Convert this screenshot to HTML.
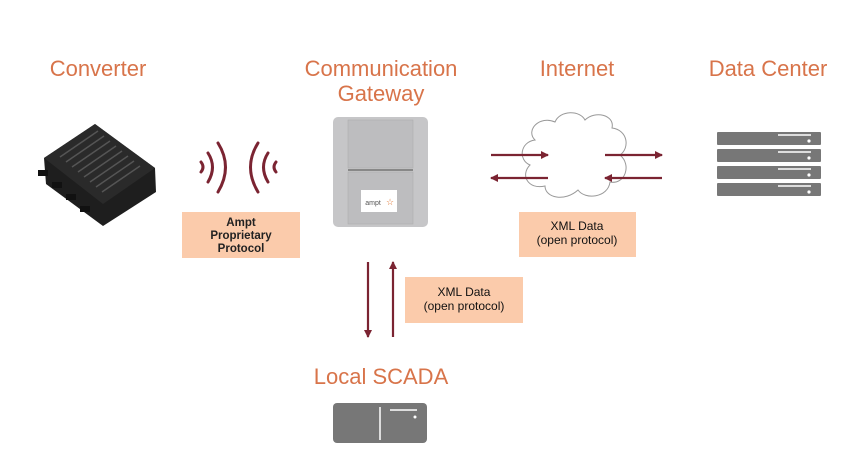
<!DOCTYPE html>
<html><head><meta charset="utf-8"><style>
html,body{margin:0;padding:0;background:#fff;}
svg{display:block;}
.t{font-family:"Liberation Sans",sans-serif;font-size:22px;fill:#d8744a;text-anchor:middle;}
.b{font-family:"Liberation Sans",sans-serif;font-size:11.5px;font-weight:bold;fill:#222;text-anchor:middle;}
.x{font-family:"Liberation Sans",sans-serif;font-size:12px;fill:#111;text-anchor:middle;}
</style></head><body>
<svg width="866" height="469" viewBox="0 0 866 469" xmlns="http://www.w3.org/2000/svg">
<defs>
<marker id="a" markerWidth="8" markerHeight="8" refX="7" refY="4" orient="auto" markerUnits="userSpaceOnUse"><path d="M0,0 L8,4 L0,8 z" fill="#7b2432"/></marker>
</defs>
<text class="t" x="98" y="76">Converter</text>
<text class="t" x="381" y="76">Communication</text>
<text class="t" x="381" y="101">Gateway</text>
<text class="t" x="577" y="76">Internet</text>
<text class="t" x="768" y="76">Data Center</text>

<!-- converter -->
<g>
<path d="M44,158 L95,124 L155,168 L156,192 L103,226 L46,184 Z" fill="#1e1e1e"/>
<path d="M44,158 L95,124 L155,168 L103,204 Z" fill="#2a2a2a"/>
<g stroke="#555" stroke-width="1.5">
<line x1="60" y1="157" x2="98" y2="131"/><line x1="66" y1="162" x2="104" y2="136"/><line x1="72" y1="167" x2="110" y2="141"/><line x1="78" y1="172" x2="116" y2="146"/><line x1="84" y1="177" x2="122" y2="151"/><line x1="90" y1="182" x2="128" y2="156"/><line x1="96" y1="187" x2="134" y2="161"/><line x1="102" y1="192" x2="140" y2="166"/>
</g>
<g fill="#111"><rect x="38" y="170" width="10" height="6"/><rect x="52" y="182" width="10" height="6"/><rect x="66" y="194" width="10" height="6"/><rect x="80" y="206" width="10" height="6"/></g>
</g>

<!-- waves -->
<g fill="none" stroke="#7b2432" stroke-width="3" stroke-linecap="round">
<path d="M201,162 Q205,167 201,172"/>
<path d="M208,153 Q217,167 208,182"/>
<path d="M218,143 Q233,167 218,192"/>
<path d="M258,143 Q243,167 258,192"/>
<path d="M268,153 Q259,167 268,182"/>
<path d="M276,162 Q272,167 276,172"/>
</g>
<rect x="182" y="212" width="118" height="46" fill="#fbcbab"/>
<text class="b" x="241" y="226">Ampt</text>
<text class="b" x="241" y="239">Proprietary</text>
<text class="b" x="241" y="252">Protocol</text>

<!-- gateway -->
<rect x="333" y="117" width="95" height="110" rx="5" fill="#c6c6c8"/>
<rect x="348" y="120" width="65" height="48" fill="#bdbdbf" stroke="#aaa" stroke-width="0.5"/>
<rect x="348" y="172" width="65" height="52" fill="#bdbdbf" stroke="#aaa" stroke-width="0.5"/>
<line x1="348" y1="170" x2="413" y2="170" stroke="#888" stroke-width="2"/>
<rect x="361" y="190" width="36" height="22" fill="#fff"/>
<text x="373" y="205" font-family="Liberation Sans,sans-serif" font-size="7" fill="#555" text-anchor="middle">ampt</text>
<text x="390" y="205" font-size="9" fill="#e07b3a" text-anchor="middle">☆</text>

<!-- cloud -->
<path d="M535,140 C525,130 540,115 555,122 C560,110 580,110 585,120 C595,110 615,115 612,128 C628,130 630,148 620,155 C632,165 625,185 610,182 C608,198 585,200 578,190 C565,202 545,198 545,186 C528,190 520,175 530,165 C518,160 520,142 535,140 Z" fill="#fff" stroke="#999" stroke-width="1"/>
<!-- internet arrows -->
<g stroke="#7b2432" stroke-width="2.2">
<line x1="491" y1="155" x2="548" y2="155" marker-end="url(#a)"/>
<line x1="548" y1="178" x2="491" y2="178" marker-end="url(#a)"/>
<line x1="605" y1="155" x2="662" y2="155" marker-end="url(#a)"/>
<line x1="662" y1="178" x2="605" y2="178" marker-end="url(#a)"/>
</g>
<rect x="519" y="212" width="117" height="45" fill="#fbcbab"/>
<text class="x" x="577" y="230">XML Data</text>
<text class="x" x="577" y="244">(open protocol)</text>

<!-- server -->
<g fill="#777">
<rect x="717" y="132" width="104" height="13" rx="1"/>
<rect x="717" y="149" width="104" height="13" rx="1"/>
<rect x="717" y="166" width="104" height="13" rx="1"/>
<rect x="717" y="183" width="104" height="13" rx="1"/>
</g>
<g stroke="#fff" stroke-width="1.5">
<line x1="778" y1="135" x2="811" y2="135"/><line x1="778" y1="152" x2="811" y2="152"/><line x1="778" y1="169" x2="811" y2="169"/><line x1="778" y1="186" x2="811" y2="186"/>
</g>
<g fill="#fff"><circle cx="809" cy="141" r="1.6"/><circle cx="809" cy="158" r="1.6"/><circle cx="809" cy="175" r="1.6"/><circle cx="809" cy="192" r="1.6"/></g>

<!-- vertical arrows -->
<g stroke="#7b2432" stroke-width="2.2">
<line x1="368" y1="262" x2="368" y2="337" marker-end="url(#a)"/>
<line x1="393" y1="337" x2="393" y2="262" marker-end="url(#a)"/>
</g>
<rect x="405" y="277" width="118" height="46" fill="#fbcbab"/>
<text class="x" x="464" y="296">XML Data</text>
<text class="x" x="464" y="310">(open protocol)</text>

<text class="t" x="381" y="384">Local SCADA</text>
<rect x="333" y="403" width="94" height="40" rx="4" fill="#777"/>
<line x1="380" y1="407" x2="380" y2="440" stroke="#fff" stroke-width="1.5"/>
<line x1="390" y1="410" x2="417" y2="410" stroke="#fff" stroke-width="1.5"/>
<circle cx="415" cy="417" r="1.5" fill="#fff"/>
</svg>
</body></html>
